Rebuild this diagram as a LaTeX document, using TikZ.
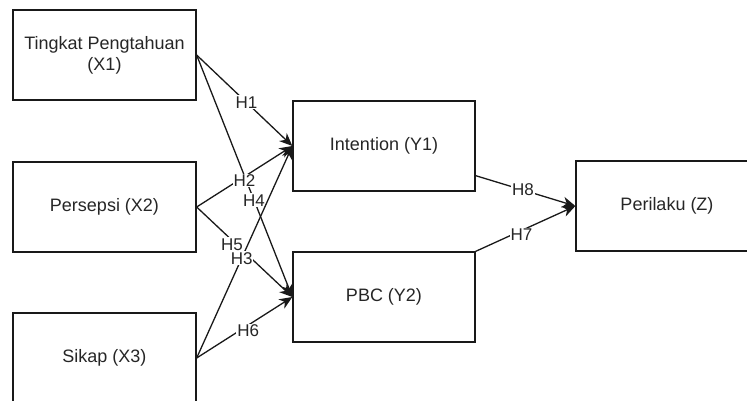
\documentclass[tikz,border=0pt]{standalone}
\usepackage{fontspec}
\setmainfont{Liberation Sans}
\usetikzlibrary{arrows.meta}
\begin{document}
\begin{tikzpicture}[x=1pt,y=-1pt,
  box/.style={draw=black!90, line width=1.3pt, rectangle, minimum width=183pt, minimum height=90pt,
    inner sep=0pt, align=center, text=black!85, font=\fontsize{18pt}{21pt}\selectfont},
  conn/.style={draw=black!90, line width=1.3pt, -{Stealth[length=13pt,width=11pt,inset=4pt]}},
  lab/.style={fill=white, inner sep=1pt, text=black!85, font=\fontsize{17pt}{18pt}\selectfont}
]
\useasboundingbox (0,0) rectangle (747,400);
\node[box] (x1) at (104.5,55) {Tingkat Pengtahuan\\(X1)};
\node[box] (x2) at (104.5,207) {Persepsi (X2)};
\node[box] (x3) at (104.5,358) {Sikap (X3)};
\node[box, minimum width=182pt] (y1) at (384,146) {Intention (Y1)};
\node[box, minimum width=182pt] (y2) at (384,297) {PBC (Y2)};
\node[box, minimum width=182pt] (z) at (667,206) {Perilaku (Z)};

\draw[conn] (x1.east) -- node[lab, pos=0.52] {H1} (y1.west);
\draw[conn] (x1.east) -- node[lab, pos=0.6] {H4} (y2.west);
\draw[conn] (x2.east) -- node[lab, pos=0.5, yshift=-4pt] {H2} (y1.west);
\draw[conn] (x2.east) -- node[lab, pos=0.37, yshift=-4pt] {H5} (y2.west);
\draw[conn] (x3.east) -- node[lab, pos=0.47] {H3} (y1.west);
\draw[conn] (x3.east) -- node[lab, pos=0.54, yshift=-6pt] {H6} (y2.west);
\draw[conn] ([yshift=16pt]y1.south east) -- node[lab, pos=0.475] {H8} (z.west);
\draw[conn] (y2.north east) -- node[lab, pos=0.46, yshift=-4pt] {H7} (z.west);
\end{tikzpicture}
\end{document}
